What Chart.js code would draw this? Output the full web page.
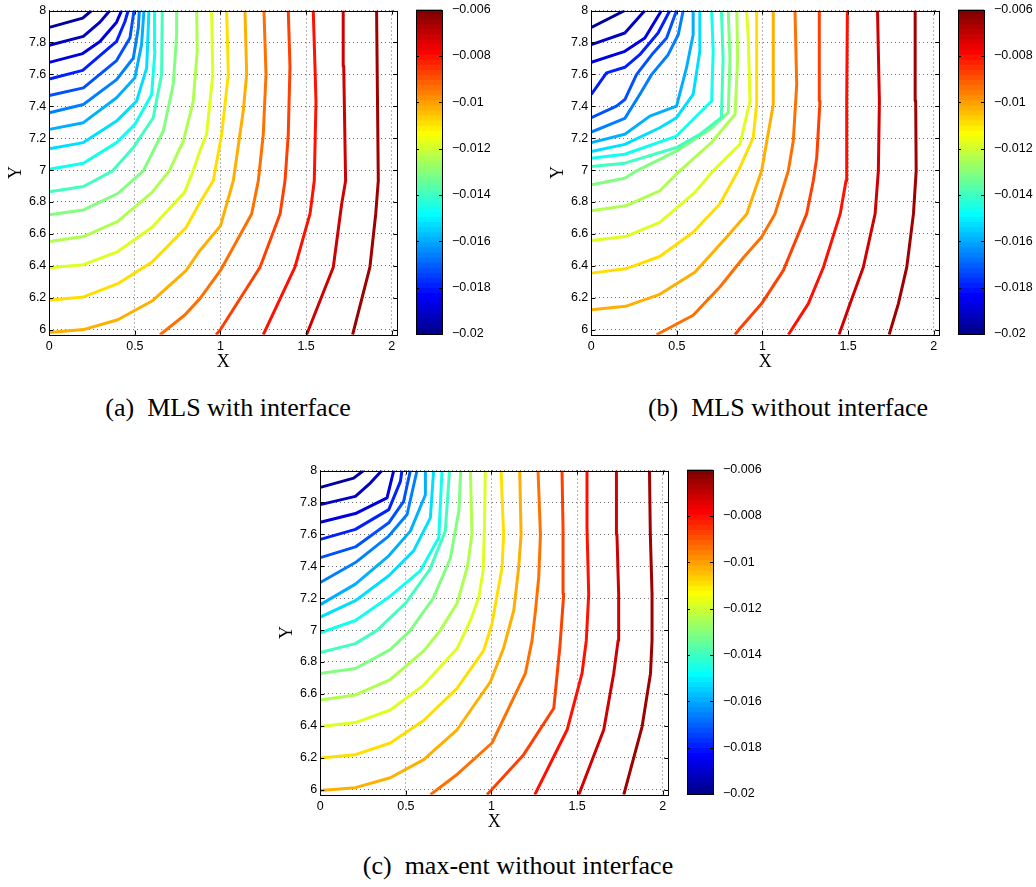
<!DOCTYPE html>
<html><head><meta charset="utf-8">
<script src="https://cdn.jsdelivr.net/npm/chart.js@4"></script>
<style>
html,body{margin:0;padding:0;background:#fff;}
body{width:1036px;height:887px;position:relative;overflow:hidden;}
canvas{position:absolute;}
.cap{position:absolute;font-family:"Liberation Serif","Times New Roman",serif;font-size:26px;line-height:26px;white-space:nowrap;color:#000;text-align:center;}
.cap .g{display:inline-block;width:13px;}
</style></head><body>
<canvas id="ca" width="395" height="373" style="left:5px;top:0px"></canvas>
<canvas id="cba" width="76" height="344" style="left:416px;top:0px"></canvas>
<canvas id="cb" width="395" height="373" style="left:547px;top:0px"></canvas>
<canvas id="cbb" width="76" height="344" style="left:958px;top:0px"></canvas>
<canvas id="cc" width="395" height="373" style="left:276px;top:460px"></canvas>
<canvas id="cbc" width="76" height="344" style="left:687px;top:460px"></canvas>
<div class="cap" style="left:28px;width:400px;top:395px">(a)<span class="g"></span>MLS with interface</div>
<div class="cap" style="left:588px;width:400px;top:395px">(b)<span class="g"></span>MLS without interface</div>
<div class="cap" style="left:318px;width:400px;top:853px">(c)<span class="g"></span>max-ent without interface</div>
<script>
// ---- data ----
const X_TICKS = [0, 0.5, 1, 1.5, 2];
const Y_TICKS = [6, 6.2, 6.4, 6.6, 6.8, 7, 7.2, 7.4, 7.6, 7.8, 8];
const X_RANGE = [0, 2.033];
const Y_RANGE = [5.968, 8];
const CB_RANGE = [-0.02, -0.006];
const CB_TICKS = [-0.02, -0.018, -0.016, -0.014, -0.012, -0.01, -0.008, -0.006];
const CB_LABELS = ['\u22120.02', '\u22120.018', '\u22120.016', '\u22120.014', '\u22120.012', '\u22120.01', '\u22120.008', '\u22120.006'];
// contour level of each line
const LEVELS = [-0.0197, -0.0193, -0.0187, -0.018, -0.0173, -0.0166, -0.0159, -0.0152, -0.0146, -0.0139,
                -0.0131, -0.0124, -0.0117, -0.0109, -0.0102, -0.0095, -0.0087, -0.008, -0.0072, -0.0065];

// (a) MLS with interface: one polyline [x,y] per contour level
const A_LINES = [
 [[0,7.894],[0.195,7.952],[0.247,8]],
 [[0,7.782],[0.199,7.838],[0.296,7.927],[0.354,8]],
 [[0,7.675],[0.195,7.73],[0.296,7.806],[0.393,7.927],[0.4225,8]],
 [[0,7.571],[0.195,7.625],[0.393,7.806],[0.442,7.931],[0.461,8]],
 [[0,7.467],[0.199,7.515],[0.393,7.686],[0.471,7.827],[0.495,8]],
 [[0,7.359],[0.199,7.411],[0.393,7.567],[0.491,7.702],[0.52,7.89],[0.526,8]],
 [[0,7.255],[0.199,7.297],[0.393,7.453],[0.5,7.578],[0.539,7.786],[0.553,8]],
 [[0,7.134],[0.199,7.172],[0.393,7.307],[0.51,7.432],[0.569,7.64],[0.582,8]],
 [[0,7.005],[0.199,7.043],[0.393,7.172],[0.5,7.286],[0.598,7.474],[0.617,7.744],[0.615,8]],
 [[0,6.864],[0.2,6.897],[0.37,6.995],[0.491,7.141],[0.607,7.328],[0.656,7.598],[0.66,8]],
 [[0,6.72],[0.2,6.75],[0.4,6.853],[0.549,6.995],[0.666,7.245],[0.724,7.536],[0.744,7.848],[0.744,8]],
 [[0,6.552],[0.2,6.583],[0.4,6.678],[0.6,6.86],[0.701,6.995],[0.783,7.182],[0.841,7.432],[0.864,7.744],[0.861,8]],
 [[0,6.388],[0.2,6.407],[0.4,6.489],[0.6,6.641],[0.79,6.86],[0.84,6.995],[0.88,7.12],[0.919,7.224],[0.955,7.6],[0.948,8]],
 [[0,6.184],[0.2,6.205],[0.4,6.288],[0.6,6.423],[0.8,6.641],[0.88,6.797],[0.958,6.933],[1.007,7.224],[1.046,7.6],[1.036,8]],
 [[0,5.982],[0.2,6.0],[0.4,6.062],[0.6,6.179],[0.8,6.371],[0.88,6.496],[1.0,6.65],[1.075,6.933],[1.133,7.37],[1.153,7.6],[1.143,8]],
 [[0.647,5.968],[0.79,6.09],[0.88,6.194],[1.0,6.371],[1.182,6.725],[1.221,6.933],[1.25,7.224],[1.266,7.6],[1.254,8]],
 [[0.974,5.968],[0.997,5.996],[1.231,6.391],[1.348,6.725],[1.377,6.933],[1.396,7.224],[1.406,7.65],[1.396,8]],
 [[1.25,5.968],[1.435,6.391],[1.523,6.725],[1.548,6.933],[1.558,7.43],[1.552,7.65],[1.542,8]],
 [[1.503,5.968],[1.659,6.391],[1.708,6.787],[1.731,6.933],[1.72,7.65],[1.717,8]],
 [[1.772,5.968],[1.873,6.391],[1.907,6.725],[1.922,6.933],[1.912,8]]
];

// (b) MLS without interface
const B_LINES = [
 [[0,7.894],[0.196,8]],
 [[0,7.786],[0.196,7.859],[0.313,8]],
 [[0,7.675],[0.196,7.744],[0.313,7.827],[0.41,8]],
 [[0,7.474],[0.089,7.609],[0.196,7.644],[0.283,7.723],[0.39,7.859],[0.459,8]],
 [[0,7.328],[0.147,7.401],[0.196,7.442],[0.264,7.598],[0.362,7.734],[0.44,7.827],[0.498,8]],
 [[0,7.238],[0.196,7.324],[0.283,7.474],[0.352,7.598],[0.449,7.723],[0.508,7.848],[0.537,8]],
 [[0,7.172],[0.196,7.224],[0.342,7.338],[0.498,7.401],[0.556,7.64],[0.595,7.848],[0.595,8]],
 [[0,7.116],[0.196,7.161],[0.4,7.265],[0.498,7.328],[0.595,7.474],[0.634,7.744],[0.634,8]],
 [[0,7.074],[0.196,7.099],[0.498,7.213],[0.605,7.328],[0.703,7.432],[0.712,7.744],[0.703,8]],
 [[0,7.022],[0.196,7.043],[0.498,7.141],[0.634,7.224],[0.76,7.33],[0.77,7.7],[0.76,8]],
 [[0,6.908],[0.196,6.949],[0.264,6.995],[0.5,7.12],[0.7,7.26],[0.8,7.36],[0.81,7.7],[0.8,8]],
 [[0,6.745],[0.2,6.776],[0.4,6.87],[0.517,6.995],[0.7,7.17],[0.84,7.35],[0.855,7.7],[0.85,8]],
 [[0,6.558],[0.2,6.583],[0.4,6.672],[0.605,6.86],[0.712,6.995],[0.868,7.161],[0.927,7.432],[0.917,7.827],[0.907,8]],
 [[0,6.354],[0.2,6.381],[0.4,6.458],[0.595,6.61],[0.751,6.787],[0.868,7.016],[0.946,7.203],[0.966,7.411],[0.966,8]],
 [[0,6.125],[0.2,6.146],[0.4,6.221],[0.605,6.36],[0.79,6.579],[0.908,6.725],[0.995,6.995],[1.063,7.411],[1.063,8]],
 [[0.381,5.968],[0.595,6.09],[0.751,6.267],[0.888,6.45],[0.995,6.58],[1.073,6.725],[1.151,6.995],[1.18,7.182],[1.2,7.536],[1.19,8]],
 [[0.839,5.968],[0.868,6.007],[0.995,6.163],[1.122,6.371],[1.258,6.725],[1.297,6.933],[1.317,7.078],[1.336,7.432],[1.332,8]],
 [[1.151,5.968],[1.268,6.163],[1.356,6.391],[1.454,6.725],[1.488,6.933],[1.492,7.432],[1.496,8]],
 [[1.447,5.968],[1.512,6.163],[1.589,6.391],[1.658,6.725],[1.677,6.995],[1.683,7.432],[1.672,8]],
 [[1.74,5.968],[1.794,6.163],[1.843,6.391],[1.882,6.725],[1.898,6.995],[1.895,7.432],[1.892,8]]
];

// (c) max-ent without interface
const C_LINES = [
 [[0,7.894],[0.195,7.952],[0.253,8]],
 [[0,7.786],[0.205,7.838],[0.292,7.921],[0.36,8]],
 [[0,7.676],[0.205,7.73],[0.39,7.828],[0.429,8]],
 [[0,7.568],[0.205,7.631],[0.4,7.755],[0.468,7.932],[0.477,8]],
 [[0,7.454],[0.205,7.521],[0.4,7.672],[0.487,7.807],[0.526,8]],
 [[0,7.298],[0.205,7.423],[0.4,7.589],[0.507,7.724],[0.565,8]],
 [[0,7.159],[0.205,7.288],[0.4,7.465],[0.526,7.62],[0.614,7.848],[0.614,8]],
 [[0,7.081],[0.205,7.184],[0.4,7.34],[0.545,7.496],[0.643,7.703],[0.662,8]],
 [[0,6.983],[0.205,7.06],[0.4,7.205],[0.584,7.371],[0.692,7.579],[0.711,8]],
 [[0,6.859],[0.205,6.915],[0.331,6.998],[0.5,7.17],[0.64,7.38],[0.73,7.62],[0.755,8]],
 [[0,6.728],[0.205,6.759],[0.409,6.877],[0.526,6.998],[0.66,7.2],[0.76,7.45],[0.81,7.75],[0.82,8]],
 [[0,6.562],[0.205,6.593],[0.409,6.69],[0.604,6.869],[0.701,6.998],[0.8,7.17],[0.86,7.4],[0.886,7.6],[0.877,8]],
 [[0,6.395],[0.205,6.42],[0.409,6.499],[0.604,6.655],[0.799,6.884],[0.877,7.06],[0.926,7.205],[0.951,7.371],[0.959,7.641],[0.964,8]],
 [[0,6.198],[0.205,6.219],[0.409,6.292],[0.604,6.433],[0.799,6.634],[0.955,6.873],[1.003,7.039],[1.062,7.392],[1.071,7.599],[1.056,8]],
 [[0,5.995],[0.205,6.012],[0.409,6.074],[0.604,6.188],[0.799,6.375],[0.994,6.676],[1.07,6.884],[1.13,7.122],[1.159,7.392],[1.173,7.599],[1.165,8]],
 [[0.643,5.968],[0.799,6.095],[1.003,6.292],[1.198,6.728],[1.237,6.935],[1.257,7.122],[1.276,7.33],[1.286,7.599],[1.272,8]],
 [[0.974,5.968],[1.188,6.219],[1.364,6.51],[1.4,6.9],[1.422,7.226],[1.418,7.641],[1.412,8]],
 [[1.253,5.968],[1.442,6.375],[1.529,6.728],[1.554,6.935],[1.568,7.226],[1.558,7.641],[1.558,8]],
 [[1.51,5.968],[1.656,6.375],[1.714,6.728],[1.74,6.935],[1.743,7.226],[1.733,7.599],[1.73,8]],
 [[1.773,5.968],[1.88,6.395],[1.929,6.728],[1.938,6.935],[1.938,7.226],[1.928,7.599],[1.923,8]]
];

// ---- style helpers ----
function jetU(k){ if(k<1||k>47) return 0; if(k<=16) return k/16; if(k<=31) return 1; return (48-k)/16; }
function jet64(i){
  const r=jetU(i-24), g=jetU(i-8), b=jetU(i+8);
  return 'rgb('+Math.round(r*255)+','+Math.round(g*255)+','+Math.round(b*255)+')';
}
function colorFor(v){
  let idx=Math.floor((v-CB_RANGE[0])/(CB_RANGE[1]-CB_RANGE[0])*64)+1;
  idx=Math.max(1,Math.min(64,idx));
  return jet64(idx);
}
const fmt = v => String(Number(v.toFixed(3)));
const SANS = '"Liberation Sans", Arial, Helvetica, sans-serif';
const SERIF = '"Liberation Serif", "Times New Roman", serif';

const axesBox = {
  id:'axesBox',
  afterDraw(chart, args, opts){
    const {ctx, chartArea:{left,right,top,bottom}} = chart;
    const L = opts.tickLen || 4;
    ctx.save();
    ctx.strokeStyle='#000'; ctx.lineWidth=1;
    ctx.beginPath();
    const xs=chart.scales.x, ys=chart.scales.y;
    if (opts.xTicks) for (const t of xs.ticks){
      const px=Math.round(xs.getPixelForValue(t.value))+0.5;
      ctx.moveTo(px,bottom); ctx.lineTo(px,bottom-L);
      ctx.moveTo(px,top); ctx.lineTo(px,top+L);
    }
    for (const t of ys.ticks){
      const py=Math.round(ys.getPixelForValue(t.value))+0.5;
      ctx.moveTo(left,py); ctx.lineTo(left+L,py);
      ctx.moveTo(right,py); ctx.lineTo(right-L,py);
    }
    ctx.stroke();
    ctx.strokeRect(Math.round(left)+0.5, Math.round(top)+0.5, Math.round(right)-Math.round(left), Math.round(bottom)-Math.round(top));
    ctx.restore();
  }
};

function makeContour(id, lines){
  const datasets = lines.map((pts,i)=>({
    data: pts.map(p=>({x:p[0],y:p[1]})),
    showLine:true, pointRadius:0, borderWidth:3,
    borderColor: colorFor(LEVELS[i]), backgroundColor: colorFor(LEVELS[i]),
    borderJoinStyle:'round', tension:0, fill:false
  }));
  const gridOpts = {color:'rgba(60,60,60,0.75)', lineWidth:1, drawTicks:false};
  new Chart(document.getElementById(id), {
    type:'scatter',
    data:{datasets},
    plugins:[axesBox],
    options:{
      responsive:false, animation:false, devicePixelRatio:1, events:[],
      layout:{padding:{top:9,right:2.7,bottom:0,left:0}},
      plugins:{legend:{display:false}, tooltip:{enabled:false}, axesBox:{xTicks:true, tickLen:4}},
      scales:{
        x:{type:'linear', min:X_RANGE[0], max:X_RANGE[1], bounds:'data',
           afterBuildTicks:s=>{s.ticks=X_TICKS.map(v=>({value:v}));},
           afterFit:s=>{s.height=38.3;},
           ticks:{callback:v=>fmt(v), color:'#000', font:{family:SANS,size:12.5}, padding:4, maxRotation:0, autoSkip:false},
           grid:gridOpts, border:{display:false, dash:[1,3]},
           title:{display:true, text:'X', color:'#000', font:{family:SERIF,size:18}, padding:0}},
        y:{type:'linear', min:Y_RANGE[0], max:Y_RANGE[1], bounds:'data',
           afterBuildTicks:s=>{s.ticks=Y_TICKS.map(v=>({value:v}));},
           afterFit:s=>{s.width=44.3;},
           ticks:{callback:v=>fmt(v), color:'#000', font:{family:SANS,size:12.5}, padding:3, autoSkip:false},
           grid:gridOpts, border:{display:false, dash:[1,3]},
           title:{display:true, text:'Y', color:'#000', font:{family:SERIF,size:18}, padding:0}}
      }
    }
  });
}

function makeColorbar(id){
  const n=64, step=(CB_RANGE[1]-CB_RANGE[0])/n;
  const datasets=[];
  for(let i=0;i<n;i++){
    const lo=CB_RANGE[0]+i*step, hi=lo+step*1.02;
    datasets.push({data:[[lo,Math.min(hi,CB_RANGE[1])]], backgroundColor:jet64(i+1), borderWidth:0,
                   barPercentage:1, categoryPercentage:1, grouped:false});
  }
  new Chart(document.getElementById(id), {
    type:'bar',
    data:{labels:[''], datasets},
    plugins:[axesBox],
    options:{
      responsive:false, animation:false, devicePixelRatio:1, events:[],
      layout:{padding:{top:9,right:0,bottom:10,left:0}},
      plugins:{legend:{display:false}, tooltip:{enabled:false}, axesBox:{xTicks:false, tickLen:3}},
      scales:{
        x:{display:false},
        y:{type:'linear', position:'right', min:CB_RANGE[0], max:CB_RANGE[1], bounds:'data',
           afterBuildTicks:s=>{s.ticks=CB_TICKS.map(v=>({value:v}));},
           afterFit:s=>{s.width=50;},
           ticks:{callback:(v,i)=>CB_LABELS[i], color:'#000', font:{family:SANS,size:12.5}, padding:2, autoSkip:false},
           grid:{display:false}, border:{display:false}}
      }
    }
  });
}

makeContour('ca', A_LINES);
makeContour('cb', B_LINES);
makeContour('cc', C_LINES);
makeColorbar('cba');
makeColorbar('cbb');
makeColorbar('cbc');
</script>
</body></html>
